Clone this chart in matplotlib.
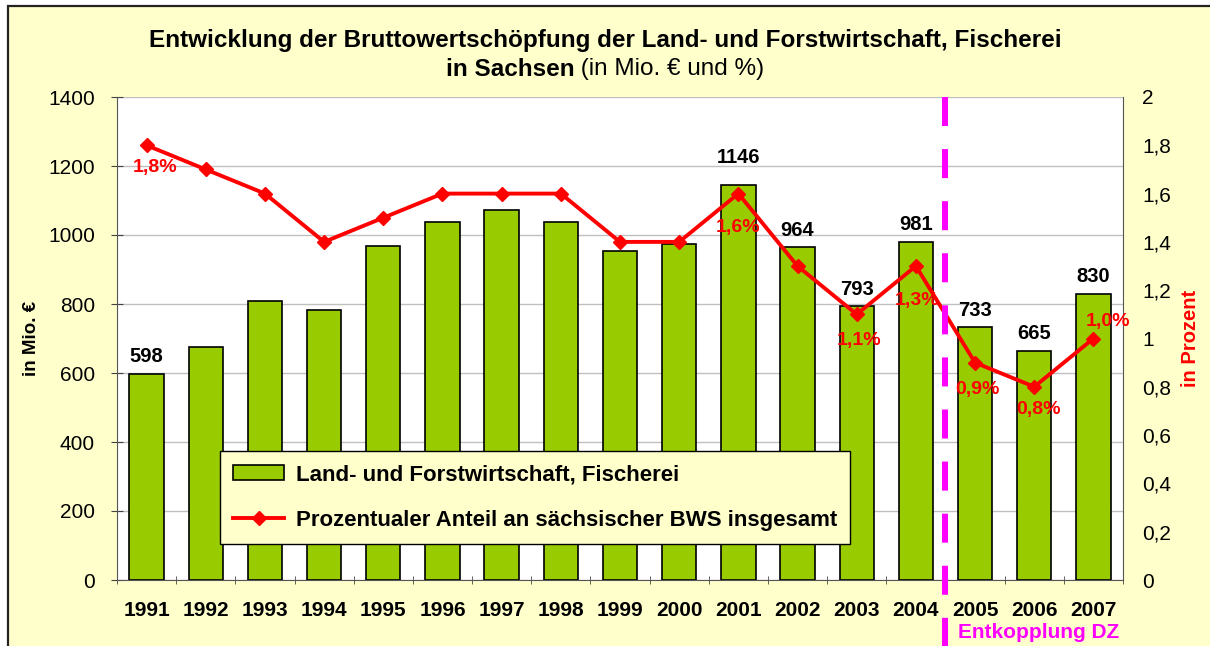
import matplotlib
matplotlib.use("Agg")
import matplotlib.pyplot as plt
from matplotlib.lines import Line2D
from matplotlib.patches import Rectangle
import numpy as np

plt.rcParams['font.family'] = ['Liberation Sans', 'DejaVu Sans']
plt.rcParams['lines.scale_dashes'] = False

years = ["1991", "1992", "1993", "1994", "1995", "1996", "1997", "1998", "1999",
         "2000", "2001", "2002", "2003", "2004", "2005", "2006", "2007"]
bws = [598, 675, 808, 783, 968, 1038, 1072, 1038, 954, 974, 1146, 964, 793, 981, 733, 665, 830]
anteil = [1.8, 1.7, 1.6, 1.4, 1.5, 1.6, 1.6, 1.6, 1.4, 1.4, 1.6, 1.3, 1.1, 1.3, 0.9, 0.8, 1.0]
bar_label_years = ["1991", "2001", "2002", "2003", "2004", "2005", "2006", "2007"]
pct_label_years = ["1991", "2001", "2003", "2004", "2005", "2006", "2007"]

# label placement offsets in pixels (dx, dy-down) -- styling only
bar_label_gap = {"2001": 27}
pct_label_off = {"1991": (8, 22), "2001": (0, 34), "2003": (2, 26), "2004": (1, 34),
                 "2005": (2, 27), "2006": (4, 23), "2007": (15, -17)}

bg = "#FFFFCC"
W, H = 1210, 646
fig = plt.figure(figsize=(12.1, 6.46), dpi=100, facecolor="white")
fig.add_artist(Rectangle((8 / W, -0.01), 1.02, 1 - 6 / H + 0.01, transform=fig.transFigure,
                         facecolor=bg, edgecolor="#222222", linewidth=1.6, zorder=-10))

L, R, T, B = 117, 1123, 97, 580
ax = fig.add_axes([L / W, 1 - B / H, (R - L) / W, (B - T) / H])
ax.set_facecolor("white")
x = np.arange(len(years))

ax.bar(x, bws, width=0.58, color="#99CC00", edgecolor="black", linewidth=1.2, zorder=3,
       label="Land- und Forstwirtschaft, Fischerei")
ax.set_xlim(-0.5, len(years) - 0.5)
ax.set_ylim(0, 1400)
ax.set_yticks(np.arange(0, 1401, 200))
ax.yaxis.grid(True, color="#C0C0C0", linewidth=1, zorder=0)
ax.set_xticks(x)
ax.set_xticklabels(years, fontsize=15, fontweight="bold")
ax.set_xticks(np.arange(-0.5, len(years), 1), minor=True)
ax.tick_params(axis="x", which="major", length=0, pad=15)
ax.tick_params(axis="x", which="minor", length=6, direction="inout", color="#444444")
ax.tick_params(axis="y", length=8, direction="inout", labelsize=15, pad=12, color="#444444")
ax.spines["top"].set_visible(False)
ax.spines["right"].set_visible(False)
ax.spines["left"].set_color("#555555")
ax.spines["bottom"].set_color("#555555")
ax.set_ylabel("in Mio. €", fontsize=13.5, fontweight="bold")
ax.yaxis.set_label_coords((40 - L) / (R - L), 0.5)

for i, y in enumerate(years):
    if y in bar_label_years:
        gap = bar_label_gap.get(y, 17)
        ax.annotate(str(bws[i]), (i, bws[i]), xytext=(0, gap * 0.72), textcoords="offset points",
                    ha="center", va="center", fontsize=14.5, fontweight="bold", zorder=5)

ax2 = ax.twinx()
ax2.set_ylim(0, 2)
ticks2 = np.arange(0, 2.01, 0.2)
ax2.set_yticks(ticks2)
ax2.set_yticklabels([("%g" % round(v, 1)).replace(".", ",") for v in ticks2])
ax2.tick_params(axis="y", length=0, labelsize=15, pad=14)
for s in ["top", "left", "bottom"]:
    ax2.spines[s].set_visible(False)
ax2.spines["right"].set_color("#555555")
ax2.set_ylabel("in Prozent", fontsize=14.5, fontweight="bold", color="red")
ax2.yaxis.set_label_coords((1181 - L) / (R - L), 0.5)
ax2.plot(x, anteil, color="red", linewidth=2.8, marker="D", markersize=7, zorder=4,
         label="Prozentualer Anteil an sächsischer BWS insgesamt")
for i, y in enumerate(years):
    if y in pct_label_years:
        lab = ("%.1f%%" % anteil[i]).replace(".", ",")
        dx, dy = pct_label_off[y]
        ax2.annotate(lab, (i, anteil[i]), xytext=(dx * 0.72, -dy * 0.72), textcoords="offset points",
                     ha="center", va="center", color="red", fontsize=14, fontweight="bold")

# Dashed separation line (Entkopplung DZ), drawn from top of plot down to figure bottom
xd = ax.transData.transform((13.5, 0))[0] / W
fig.add_artist(Line2D([xd, xd], [1 - T / H, 0.0], color="#FF00FF", linewidth=4.3,
                      dashes=(20.9, 16.6), solid_capstyle="butt", transform=fig.transFigure,
                      zorder=6))
fig.text(958 / W, 1 - 633 / H, "Entkopplung DZ", color="#FF00FF", fontsize=15, fontweight="bold",
         ha="left", va="center")

# Legend
h1, l1 = ax.get_legend_handles_labels()
h2, l2 = ax2.get_legend_handles_labels()
leg = ax2.legend(h1 + h2, l1 + l2, loc="lower left",
                 bbox_to_anchor=((220 - L) / (R - L), (B - 544) / (B - T)),
                 fontsize=16, frameon=True, fancybox=False, facecolor=bg, edgecolor="black",
                 framealpha=1, labelspacing=1.1, handlelength=2.3, handletextpad=0.5,
                 borderpad=0.6, borderaxespad=0)
for t in leg.get_texts():
    t.set_fontweight("bold")
leg.get_frame().set_linewidth(1.0)
leg.set_zorder(10)

# Title
fig.text(0.5, 1 - 40 / H, "Entwicklung der Bruttowertschöpfung der Land- und Forstwirtschaft, Fischerei",
         ha="center", va="center", fontsize=17.5, fontweight="bold")
renderer = fig.canvas.get_renderer()
t1 = fig.text(0, 1 - 69 / H, "in Sachsen", ha="left", va="center", fontsize=17.5, fontweight="bold")
t2 = fig.text(0, 1 - 69 / H, " (in Mio. € und %)", ha="left", va="center", fontsize=17.5)
w1 = t1.get_window_extent(renderer).width
w2 = t2.get_window_extent(renderer).width
x0 = (W - (w1 + w2)) / 2
t1.set_x(x0 / W)
t2.set_x((x0 + w1) / W)

fig.savefig("out.png", dpi=100, facecolor="white")
